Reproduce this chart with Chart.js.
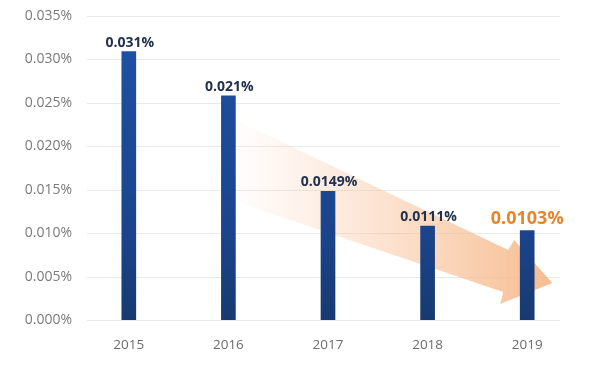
<!DOCTYPE html>
<html>
<head>
<meta charset="utf-8">
<script src="https://cdn.jsdelivr.net/npm/chart.js@4"></script>
<style>
  html, body { margin: 0; padding: 0; background: #fff; }
  #wrap { width: 592px; height: 365px; }
</style>
</head>
<body>
<div id="wrap"><canvas id="myChart" width="592" height="365"></canvas></div>
<script>
// DATA
const years = ['2015', '2016', '2017', '2018', '2019'];
const barValues = [0.0309, 0.0258, 0.0148, 0.0108, 0.0103];   // bar heights as drawn (in %)
const barLabels = ['0.031%', '0.021%', '0.0149%', '0.0111%', '0.0103%'];
const yTickValues = [0, 0.005, 0.010, 0.015, 0.020, 0.025, 0.030, 0.035];
const yTickLabels = ['0.000%', '0.005%', '0.010%', '0.015%', '0.020%', '0.025%', '0.030%', '0.035%'];

const FONT = "'Open Sans', 'Noto Sans', sans-serif";

// grid lines + trend arrow behind the bars
const backdrop = {
  id: 'backdrop',
  beforeDatasetsDraw(chart) {
    const ctx = chart.ctx;
    const x = chart.scales.x;
    const y = chart.scales.y;
    const left = x.getPixelForValue(0) - 42;
    const right = x.getPixelForValue(4) + 33;
    ctx.save();
    ctx.strokeStyle = '#e9e9e9';
    ctx.lineWidth = 1;
    yTickValues.forEach(v => {
      const py = Math.round(y.getPixelForValue(v)) + 0.5;
      ctx.beginPath();
      ctx.moveTo(left, py);
      ctx.lineTo(right, py);
      ctx.stroke();
    });

    // arrow from 2016 toward 2019
    const x1 = x.getPixelForValue(1), x4 = x.getPixelForValue(4);
    const grad = ctx.createLinearGradient(x1, 0, x4 + 25, 0);
    grad.addColorStop(0, 'rgba(248,200,165,0)');
    grad.addColorStop(0.35, 'rgba(248,196,158,0.35)');
    grad.addColorStop(1, 'rgba(246,184,138,0.95)');
    ctx.fillStyle = grad;
    ctx.beginPath();
    ctx.moveTo(x1 + 3, 118);
    ctx.lineTo(x4 - 19, 250);
    ctx.lineTo(x4 - 13, 240);
    ctx.lineTo(x4 + 25, 283);
    ctx.lineTo(x4 - 27, 304);
    ctx.lineTo(x4 - 24, 292);
    ctx.lineTo(x1 + 3, 200);
    ctx.closePath();
    ctx.fill();
    ctx.restore();
  }
};

// value labels over the bars
const valueLabels = {
  id: 'valueLabels',
  afterDatasetsDraw(chart) {
    const ctx = chart.ctx;
    const meta = chart.getDatasetMeta(0);
    ctx.save();
    ctx.textAlign = 'center';
    ctx.textBaseline = 'alphabetic';
    meta.data.forEach((bar, i) => {
      const last = i === barLabels.length - 1;
      ctx.font = (last ? 'bold 18px ' : 'bold 14px ') + FONT;
      ctx.fillStyle = last ? '#e5862e' : '#22324c';
      ctx.fillText(barLabels[i], bar.x + (last ? 0 : 1), bar.y - (last ? 7 : 5));
    });
    ctx.restore();
  }
};

const ctx = document.getElementById('myChart');

const myChart = new Chart(ctx, {
  type: 'bar',
  data: {
    labels: years,
    datasets: [{
      data: barValues,
      barThickness: 14,
      borderWidth: 0,
      backgroundColor: (c) => {
        const area = c.chart.chartArea;
        if (!area) return '#1b4690';
        const g = c.chart.ctx.createLinearGradient(0, area.top, 0, area.bottom);
        g.addColorStop(0, '#1f52a6');
        g.addColorStop(0.7, '#1b448c');
        g.addColorStop(1, '#173a70');
        return g;
      }
    }]
  },
  options: {
    responsive: false,
    animation: false,
    layout: { padding: { top: 16, right: 15, bottom: 8, left: 0 } },
    plugins: {
      legend: { display: false },
      tooltip: { enabled: false }
    },
    scales: {
      x: {
        afterFit: (scale) => { scale.height = 37; },
        grid: { display: false, drawTicks: false },
        border: { display: false },
        ticks: { color: '#6b6b6b', padding: 17, font: { family: FONT, size: 13.5 } }
      },
      y: {
        min: 0,
        max: 0.035,
        afterBuildTicks: (scale) => { scale.ticks = yTickValues.map(v => ({ value: v })); },
        afterFit: (scale) => { scale.width = 79; },
        grid: { display: false, drawTicks: false },
        border: { display: false },
        ticks: {
          color: '#7a7a7a',
          padding: 7,
          font: { family: FONT, size: 14 },
          callback: (v) => yTickLabels[yTickValues.indexOf(v)]
        }
      }
    }
  },
  plugins: [backdrop, valueLabels]
});
</script>
</body>
</html>
